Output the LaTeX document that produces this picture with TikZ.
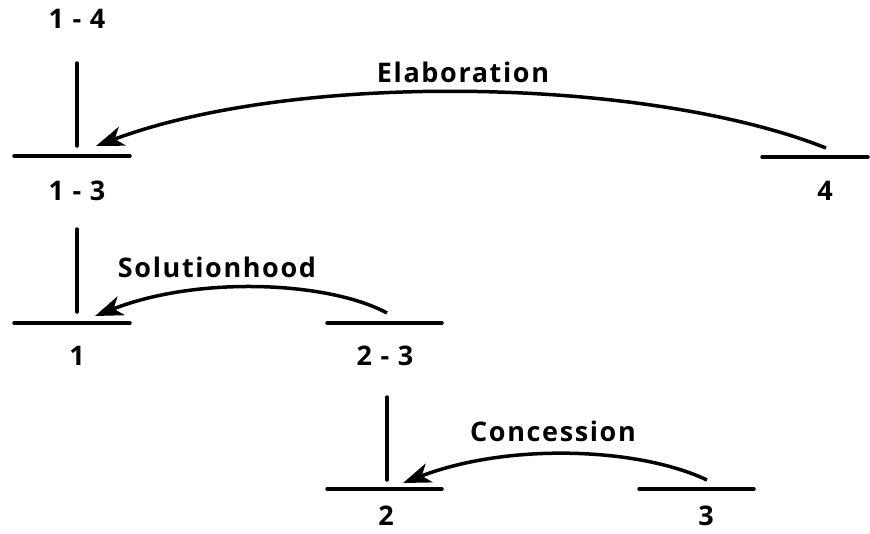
\documentclass[tikz,border=0pt]{standalone}
\usepackage{fontspec}
\setmainfont{Open Sans}[LetterSpace=6]
\usetikzlibrary{arrows.meta}
\begin{document}
\begin{tikzpicture}[x=1pt,y=-1pt,
  lbl/.style={font=\fontsize{27}{30}\selectfont\bfseries, inner sep=0pt, anchor=center},
  seg/.style={line width=3.5pt, line cap=round},
  rel/.style={line width=3.5pt, -{Stealth[length=28pt,width=20pt,inset=8pt]}}]
\useasboundingbox (0,0) rectangle (870,533);
% span 1-3 / 1-4
\node[lbl] (n14) at (77,19) {1 - 4};
\coordinate (v14t) at (77,63); \coordinate (v14b) at (77,146);
\draw[seg] (v14t) -- (v14b);
\coordinate (h13l) at (14,156); \coordinate (h13r) at (130,156);
\draw[seg] (h13l) -- (h13r);
\node[lbl] (n13) at (77,191) {1 - 3};
% unit 4
\coordinate (h4l) at (762,157); \coordinate (h4r) at (868,157);
\draw[seg] (h4l) -- (h4r);
\node[lbl] (n4) at (825,191) {4};
\coordinate (e4) at (826,148); \coordinate (e13) at (96,146);
\draw[rel] (e4) .. controls (650,78) and (300,70) .. (e13);
\node[lbl] (elab) at (463,72) {Elaboration};
% span 1
\coordinate (v13t) at (77,229); \coordinate (v13b) at (77,312);
\draw[seg] (v13t) -- (v13b);
\coordinate (h1l) at (14,323); \coordinate (h1r) at (130,323);
\draw[seg] (h1l) -- (h1r);
\node[lbl] (n1) at (77,356) {1};
% span 2-3
\coordinate (h23l) at (327,323); \coordinate (h23r) at (442,323);
\draw[seg] (h23l) -- (h23r);
\node[lbl] (n23) at (385,356) {2 - 3};
\coordinate (s23) at (387,313); \coordinate (s1) at (95,316);
\draw[rel] (s23) .. controls (330,282) and (200,275) .. (s1);
\node[lbl] (sol) at (217,267) {Solutionhood};
% span 2
\coordinate (v23t) at (387,397); \coordinate (v23b) at (387,480);
\draw[seg] (v23t) -- (v23b);
\coordinate (h2l) at (327,489); \coordinate (h2r) at (442,489);
\draw[seg] (h2l) -- (h2r);
\node[lbl] (n2) at (386,516) {2};
% unit 3
\coordinate (h3l) at (639,489); \coordinate (h3r) at (754,489);
\draw[seg] (h3l) -- (h3r);
\node[lbl] (n3) at (706,516) {3};
\coordinate (c3) at (707,480); \coordinate (c2) at (403,483);
\draw[rel] (c3) .. controls (640,448) and (510,442) .. (c2);
\node[lbl] (conc) at (553,431) {Concession};
\end{tikzpicture}
\end{document}
